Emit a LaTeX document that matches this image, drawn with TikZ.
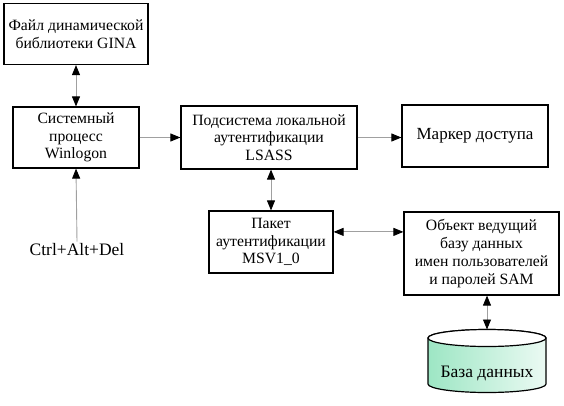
\documentclass[tikz,border=0pt]{standalone}
\usepackage{fontspec}
\setmainfont{Liberation Serif}
\usetikzlibrary{arrows.meta,calc}
\definecolor{mint}{HTML}{9DE6C4}
\definecolor{linegray}{HTML}{A0A0A0}
\begin{document}
\begin{tikzpicture}[x=1pt,y=-1pt,
  box/.style={draw=black,line width=1.2pt,align=center,inner sep=0pt,
    font=\fontsize{15.7}{17.8}\selectfont},
  conn/.style={draw=linegray,line width=0.9pt},
  tip/.style={-{Triangle[length=10pt,width=8pt,color=black]}},
  both/.style={{Triangle[length=10pt,width=8pt,color=black]}-{Triangle[length=10pt,width=8pt,color=black]}}
]
\useasboundingbox[fill=white] (0,0) rectangle (564,405);
\node[box,minimum width=144pt,minimum height=61pt] (gina) at (76,34) {Файл динамической\\библиотеки GINA};
\node[box,minimum width=126pt,minimum height=61pt] (win) at (76,137.5) {Системный\\процесс\\Winlogon};
\node[box,minimum width=176pt,minimum height=63pt] (lsass) at (269,137.5) {Подсистема локальной\\аутентификации\\LSASS};
\node[box,minimum width=146pt,minimum height=62pt,font=\fontsize{17}{19}\selectfont] (marker) at (475,136) {Маркер доступа};
\node[box,minimum width=124pt,minimum height=62pt] (pak) at (271,242) {Пакет\\аутентификации\\MSV1\_0};
\node[box,minimum width=155pt,minimum height=83pt] (obj) at (481.5,253.5) {Объект ведущий\\базу данных\\имен пользователей\\и паролей SAM};
\node[font=\fontsize{17.5}{20}\selectfont,inner sep=2pt] (ctrl) at (77,250) {Ctrl+Alt+Del};
% database cylinder
\path[left color=mint,right color=mint!20,draw=black,line width=1.2pt]
  (428,338) -- (428,384) arc[start angle=180,end angle=0,x radius=59,y radius=8.5]
  -- (546,338) arc[start angle=0,end angle=-180,x radius=59,y radius=8.5] -- cycle;
\draw[line width=1.2pt,fill=white] (487,338) ellipse[x radius=59,y radius=8.5];
\coordinate (dbtop) at (487,329.5);
\node[font=\fontsize{17.5}{20}\selectfont] (db) at (487,373) {База данных};
% connectors
\draw[conn,both] (gina) -- (win);
\draw[conn,tip] (ctrl.north) -- (win.south);
\draw[conn,tip] (win) -- (lsass);
\draw[conn,tip] (lsass.east) -- (lsass.east -| marker.west);
\draw[conn,both] (lsass.south -| pak.north) -- (pak.north);
\coordinate (pe) at ($(pak.north east)!0.34!(pak.south east)$);
\draw[conn,both] (pe) -- (pe -| obj.west);
\draw[conn,both] (obj.south -| dbtop) -- (dbtop);
\end{tikzpicture}
\end{document}
